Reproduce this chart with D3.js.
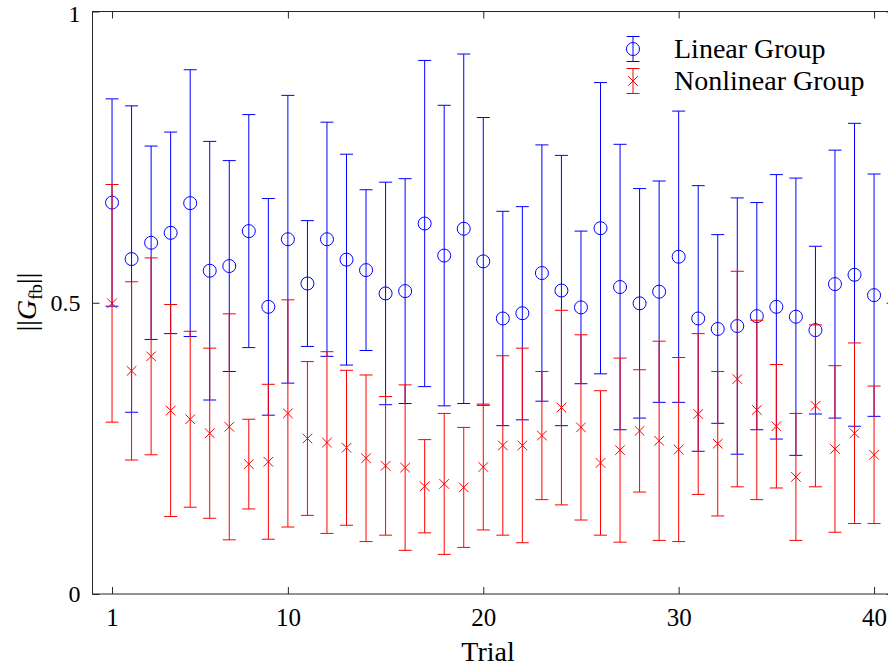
<!DOCTYPE html>
<html>
<head>
<meta charset="utf-8">
<script src="https://cdn.jsdelivr.net/npm/d3@7"></script>
<style>
  html, body { margin: 0; padding: 0; background: #fff; }
  svg { display: block; }
  text { font-family: "Liberation Serif", "Times New Roman", serif; fill: #000; }
</style>
</head>
<body>
<svg id="chart" width="888" height="666"></svg>
<script>
const trials = d3.range(1, 41);
const linearMean = [0.672,0.575,0.603,0.620,0.671,0.555,0.563,0.623,0.493,0.609,
                    0.533,0.609,0.574,0.556,0.516,0.520,0.636,0.581,0.627,0.571,
                    0.473,0.482,0.551,0.521,0.492,0.628,0.527,0.499,0.519,0.579,
                    0.473,0.455,0.460,0.477,0.493,0.476,0.453,0.532,0.548,0.513];
const linearErr  = [0.178,0.263,0.166,0.173,0.229,0.222,0.181,0.200,0.186,0.247,
                    0.108,0.201,0.181,0.138,0.191,0.193,0.280,0.258,0.300,0.247,
                    0.184,0.183,0.220,0.232,0.131,0.250,0.245,0.197,0.190,0.250,
                    0.228,0.162,0.220,0.195,0.227,0.238,0.144,0.230,0.260,0.208];
const nonlinearMean = [0.499,0.383,0.408,0.315,0.300,0.276,0.287,0.223,0.227,0.310,
                       0.267,0.260,0.251,0.233,0.220,0.217,0.185,0.189,0.183,0.218,
                       0.255,0.255,0.272,0.320,0.286,0.225,0.247,0.280,0.263,0.248,
                       0.309,0.258,0.369,0.316,0.288,0.201,0.323,0.249,0.276,0.239];
const nonlinearErr  = [0.204,0.153,0.169,0.182,0.151,0.146,0.194,0.077,0.133,0.195,
                       0.132,0.156,0.133,0.143,0.119,0.142,0.080,0.121,0.103,0.108,
                       0.154,0.167,0.110,0.167,0.159,0.124,0.158,0.105,0.171,0.158,
                       0.138,0.124,0.185,0.154,0.106,0.109,0.139,0.143,0.155,0.118];
const xTicks = [1, 10, 20, 30, 40];
const yTicks = [0, 0.5, 1];
const yTickLabels = ["0", "0.5", "1"];
const seriesNames = ["Linear Group", "Nonlinear Group"];
const seriesColors = ["#0000ff", "#ff0000"];

const svg = d3.select("#chart");
const L = 92.5, R = 893.6, T = 11.5, B = 594;
const x = d3.scaleLinear().domain([0, 41]).range([L, R]);
const y = d3.scaleLinear().domain([0, 1]).range([B, T]);
const axisColor = "#262626";
const capHalf = 6.5;

// Box
svg.append("rect").attr("x", L).attr("y", T).attr("width", R - L).attr("height", B - T)
  .attr("fill", "none").attr("stroke", axisColor).attr("stroke-width", 1);

// X axis (bottom & top inward ticks)
const xAxis = d3.axisBottom(x).tickValues(xTicks).tickSize(-7).tickPadding(14).tickFormat(d3.format("d"));
const gx = svg.append("g").attr("transform", `translate(0,${B})`).call(xAxis);
gx.select(".domain").remove();
gx.selectAll("line").attr("stroke", axisColor);
gx.selectAll("text").style("font-size", "25px").attr("fill", "#000")
  .style("font-family", '"Liberation Serif", serif').attr("dy", "0.71em");
const gxt = svg.append("g").attr("transform", `translate(0,${T})`)
  .call(d3.axisTop(x).tickValues(xTicks).tickSize(-7).tickFormat(""));
gxt.select(".domain").remove();
gxt.selectAll("line").attr("stroke", axisColor);

// Y axis (left & right inward ticks)
const yAxis = d3.axisLeft(y).tickValues(yTicks).tickSize(-7).tickPadding(12)
  .tickFormat((d, i) => yTickLabels[i]);
const gy = svg.append("g").attr("transform", `translate(${L},0)`).call(yAxis);
gy.select(".domain").remove();
gy.selectAll("line").attr("stroke", axisColor);
gy.selectAll("text").style("font-size", "24px").attr("fill", "#000")
  .style("font-family", '"Liberation Serif", serif')
  .attr("dy", d => d === 1 ? "0.42em" : "0.32em");
const gyr = svg.append("g").attr("transform", `translate(${R},0)`)
  .call(d3.axisRight(y).tickValues(yTicks).tickSize(-7).tickFormat(""));
gyr.select(".domain").remove();
gyr.selectAll("line").attr("stroke", axisColor);

// Axis labels
svg.append("text").attr("x", (x(0) + x(41)) / 2 - 5).attr("y", 661)
  .attr("text-anchor", "middle").style("font-size", "28px").text("Trial");

const yl = svg.append("text").attr("transform", "translate(36,302) rotate(-90)")
  .attr("text-anchor", "middle").style("font-size", "28px");
yl.append("tspan").text("||");
yl.append("tspan").style("font-style", "italic").text("G");
yl.append("tspan").attr("dy", 6).style("font-size", "19px").text("fb");
yl.append("tspan").attr("dy", -6).text("||");

// Error bars
function drawSeries(mean, err, color, marker) {
  const g = svg.append("g").attr("stroke", color).attr("stroke-width", 1).attr("fill", "none");
  const data = trials.map((t, i) => ({ t, m: mean[i], e: err[i] }));
  const grp = g.selectAll("g.eb").data(data).enter().append("g").attr("class", "eb");
  grp.append("line").attr("x1", d => x(d.t)).attr("x2", d => x(d.t))
    .attr("y1", d => y(d.m - d.e)).attr("y2", d => y(d.m + d.e));
  grp.append("line").attr("x1", d => x(d.t) - capHalf).attr("x2", d => x(d.t) + capHalf)
    .attr("y1", d => y(d.m + d.e)).attr("y2", d => y(d.m + d.e));
  grp.append("line").attr("x1", d => x(d.t) - capHalf).attr("x2", d => x(d.t) + capHalf)
    .attr("y1", d => y(d.m - d.e)).attr("y2", d => y(d.m - d.e));
  if (marker === "o") {
    grp.append("circle").attr("cx", d => x(d.t)).attr("cy", d => y(d.m)).attr("r", 6.5);
  } else {
    const s = 4.8;
    grp.append("path").attr("d", d => {
      const cx = x(d.t), cy = y(d.m);
      return `M${cx - s},${cy - s}L${cx + s},${cy + s}M${cx - s},${cy + s}L${cx + s},${cy - s}`;
    });
  }
}
drawSeries(linearMean, linearErr, seriesColors[0], "o");
drawSeries(nonlinearMean, nonlinearErr, seriesColors[1], "x");

// Legend
const legY = [49, 81];
seriesNames.forEach((name, i) => {
  const g = svg.append("g").attr("stroke", seriesColors[i]).attr("fill", "none").attr("stroke-width", 1);
  const cx = 633, cy = legY[i], h = 12.5;
  g.append("line").attr("x1", cx).attr("x2", cx).attr("y1", cy - h).attr("y2", cy + h);
  g.append("line").attr("x1", cx - capHalf).attr("x2", cx + capHalf).attr("y1", cy - h).attr("y2", cy - h);
  g.append("line").attr("x1", cx - capHalf).attr("x2", cx + capHalf).attr("y1", cy + h).attr("y2", cy + h);
  if (i === 0) {
    g.append("circle").attr("cx", cx).attr("cy", cy).attr("r", 6.5);
  } else {
    const s = 4.8;
    g.append("path").attr("d", `M${cx - s},${cy - s}L${cx + s},${cy + s}M${cx - s},${cy + s}L${cx + s},${cy - s}`);
  }
  svg.append("text").attr("x", 674).attr("y", cy + 9).style("font-size", "28px").text(name);
});
</script>
</body>
</html>
